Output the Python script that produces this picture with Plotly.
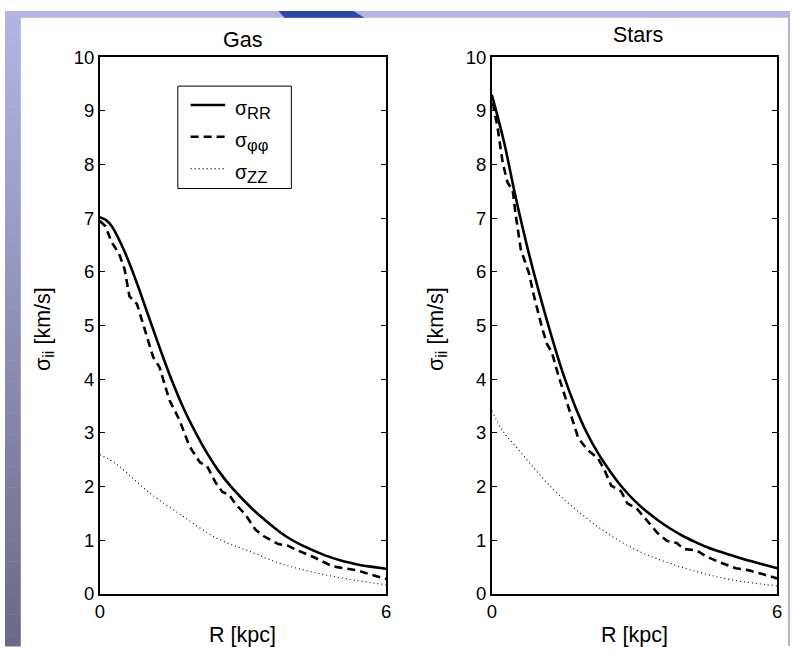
import plotly.graph_objects as go

# ---- data: velocity dispersion profiles, R in kpc, sigma in km/s ----
gas_rr_r = [0, 0.125, 0.25, 0.5, 0.75, 1.0, 1.25, 1.5, 1.75, 2.0, 2.25, 2.5, 2.75, 3.0,
            3.25, 3.5, 3.75, 4.0, 4.25, 4.5, 4.75, 5.0, 5.25, 5.5, 5.75, 6.0]
gas_rr = [7.02, 6.97, 6.85, 6.42, 5.86, 5.23, 4.60, 4.00, 3.47, 3.02, 2.62, 2.28, 2.00, 1.76,
          1.54, 1.35, 1.17, 1.02, 0.90, 0.80, 0.71, 0.64, 0.58, 0.53, 0.50, 0.47]

gas_pp_r = [0, 0.12, 0.25, 0.4, 0.52, 0.62, 0.78, 0.95, 1.12, 1.25, 1.46, 1.67, 1.88,
            2.1, 2.25, 2.43, 2.57, 2.71, 2.85, 3.05, 3.26, 3.43, 3.74, 3.94, 4.15,
            4.5, 4.84, 4.98, 5.4, 5.68, 6.0]
gas_pp = [6.95, 6.85, 6.55, 6.35, 6.05, 5.55, 5.40, 4.88, 4.41, 4.23, 3.61, 3.24, 2.75,
          2.45, 2.38, 2.07, 1.90, 1.85, 1.67, 1.48, 1.20, 1.08, 0.93, 0.90, 0.81,
          0.68, 0.53, 0.50, 0.44, 0.36, 0.28]

gas_zz_r = [0, 0.36, 1.05, 1.74, 2.43, 3.12, 3.81, 4.5, 5.19, 6.0]
gas_zz = [2.60, 2.41, 1.88, 1.45, 1.05, 0.80, 0.56, 0.40, 0.28, 0.17]

star_rr_r = [0, 0.25, 0.5, 0.75, 1.0, 1.25, 1.5, 1.75, 2.0, 2.25, 2.5, 2.75, 3.0,
             3.25, 3.5, 3.75, 4.0, 4.25, 4.5, 4.75, 5.0, 5.25, 5.5, 5.75, 6.0]
star_rr = [9.30, 8.45, 7.40, 6.45, 5.60, 4.82, 4.10, 3.50, 3.00, 2.60, 2.27, 1.98, 1.74,
           1.54, 1.37, 1.22, 1.09, 0.98, 0.88, 0.80, 0.73, 0.66, 0.60, 0.54, 0.48]

star_pp_r = [0.02, 0.12, 0.23, 0.33, 0.44, 0.5, 0.61, 0.78, 0.89, 1.06, 1.16, 1.26, 1.40,
             1.61, 1.82, 2.02, 2.23, 2.37, 2.51, 2.72, 2.85, 3.06, 3.27, 3.48, 3.68,
             3.89, 4.03, 4.31, 4.51, 4.79, 5.13, 5.41, 5.69, 6.0]
star_pp = [9.15, 8.70, 8.03, 7.67, 7.52, 7.08, 6.42, 5.98, 5.54, 4.95, 4.66, 4.51, 4.07,
           3.48, 2.90, 2.68, 2.53, 2.31, 2.02, 1.91, 1.69, 1.58, 1.36, 1.14, 0.99,
           0.95, 0.84, 0.81, 0.70, 0.59, 0.48, 0.44, 0.37, 0.29]

star_zz_r = [0, 0.23, 0.57, 0.92, 1.26, 1.61, 2.30, 2.99, 3.68, 4.37, 5.07, 6.0]
star_zz = [3.41, 3.04, 2.68, 2.31, 1.98, 1.69, 1.21, 0.84, 0.59, 0.40, 0.26, 0.15]

panel_titles = ["Gas", "Stars"]
y_ticks = [0, 1, 2, 3, 4, 5, 6, 7, 8, 9, 10]
x_ticks = [0, 6]
SUB = '<sub><span style="font-size:16.5px">%s</span></sub>'
legend_names = ["σ" + SUB % "RR", "σ" + SUB % "φφ", "σ" + SUB % "ZZ"]
y_title = "σ" + SUB % "ii" + " [km/s]"
x_title = "R [kpc]"

W, H = 795, 656
FONT = "Liberation Sans"
TICK_SIZE = 18.5
LABEL_SIZE = 21.5
KEY_SIZE = 19.5

# vertical layout grid: page rows are laid out on a slightly stretched scale
ROW_SHIFT = 8.4
ROW_SCALE = 0.974


def px_x(v):
    return v / W


def px_y(v):
    return 1 - ((v - ROW_SHIFT) / ROW_SCALE) / H


def raw_y(v):
    return 1 - v / H


# line styles shared by the curves and the legend key
styles = [
    dict(color="black", width=2.6),
    dict(color="black", width=2.6, dash="8px,5px"),
    dict(color="black", width=1.1, dash="1px,3px"),
]

fig = go.Figure()

panels = [
    (gas_rr_r, gas_rr, gas_pp_r, gas_pp, gas_zz_r, gas_zz),
    (star_rr_r, star_rr, star_pp_r, star_pp, star_zz_r, star_zz),
]
for i, (rr_r, rr, pp_r, pp, zz_r, zz) in enumerate(panels):
    xa = "x" if i == 0 else "x2"
    ya = "y" if i == 0 else "y2"
    fig.add_trace(go.Scatter(x=rr_r, y=rr, mode="lines", name=legend_names[0],
                             line=dict(styles[0], shape="spline"),
                             xaxis=xa, yaxis=ya, showlegend=False))
    fig.add_trace(go.Scatter(x=pp_r, y=pp, mode="lines", name=legend_names[1],
                             line=styles[1], xaxis=xa, yaxis=ya, showlegend=False))
    fig.add_trace(go.Scatter(x=zz_r, y=zz, mode="lines", name=legend_names[2],
                             line=dict(styles[2], shape="spline"),
                             xaxis=xa, yaxis=ya, showlegend=False))

y_dom = [px_y(595), px_y(55)]
x_doms = [[px_x(96), px_x(386)], [px_x(493), px_x(782)]]

axis_common = dict(showgrid=False, zeroline=False, showline=True, linecolor="black",
                   linewidth=1.5,
                   tickfont=dict(family=FONT, size=TICK_SIZE, color="black"))
for i in range(2):
    sfx = "" if i == 0 else "2"
    fig.update_layout(**{
        "xaxis" + sfx: dict(axis_common, domain=x_doms[i], range=[0, 6],
                            tickvals=x_ticks, ticks="", mirror=True,
                            anchor="y" + sfx),
        "yaxis" + sfx: dict(axis_common, domain=y_dom, range=[0, 10],
                            tickvals=y_ticks, ticks="inside", ticklen=5,
                            tickwidth=1, tickcolor="black", mirror="ticks",
                            anchor="x" + sfx),
    })

label_font = dict(family=FONT, size=LABEL_SIZE, color="black")
annotations = []
shapes = []
title_pos = [(241, 38), (641, 33)]
for i in range(2):
    cx = (x_doms[i][0] + x_doms[i][1]) / 2
    annotations.append(dict(text=panel_titles[i], x=px_x(title_pos[i][0]),
                            y=px_y(title_pos[i][1]), xref="paper", yref="paper",
                            xanchor="center", yanchor="middle",
                            showarrow=False, font=label_font))
    annotations.append(dict(text=x_title, x=cx, y=px_y(636), xref="paper",
                            yref="paper", xanchor="center", yanchor="middle",
                            showarrow=False, font=label_font))
    annotations.append(dict(text=y_title,
                            x=px_x(40 if i == 0 else 438), y=px_y(328),
                            xref="paper", yref="paper", xanchor="center",
                            yanchor="middle", showarrow=False, textangle=-90,
                            font=label_font))

# slide frame: lavender top band, shaded left band, blue tab
n_bands = 60
top_c = (180, 180, 227)
bot_c = (108, 106, 138)
for k in range(n_bands):
    t = k / (n_bands - 1)
    c = tuple(round(top_c[j] + (bot_c[j] - top_c[j]) * t) for j in range(3))
    y0 = H * k / n_bands
    y1 = H * (k + 1) / n_bands + 0.5
    shapes.append(dict(type="rect", xref="paper", yref="paper",
                       x0=0, x1=px_x(16), y0=raw_y(y1), y1=raw_y(y0),
                       line=dict(width=0), fillcolor="rgb(%d,%d,%d)" % c))
shapes.append(dict(type="rect", xref="paper", yref="paper", x0=0, x1=1,
                   y0=raw_y(7), y1=1, line=dict(width=0), fillcolor="rgb(180,180,226)"))
shapes.append(dict(type="rect", xref="paper", yref="paper", x0=px_x(793), x1=1,
                   y0=0, y1=1, line=dict(width=0), fillcolor="rgb(176,178,226)"))
shapes.append(dict(type="path", xref="paper", yref="paper",
                   path="M %f,%f L %f,%f L %f,%f L %f,%f Z" % (
                       px_x(277), raw_y(0), px_x(353), raw_y(0),
                       px_x(364), raw_y(7), px_x(283), raw_y(7)),
                   line=dict(width=0), fillcolor="rgb(42,72,170)"))

# legend key inside the gas panel
shapes.append(dict(type="rect", xref="paper", yref="paper",
                   x0=px_x(175), x1=px_x(290), y0=px_y(187), y1=px_y(84),
                   line=dict(color="black", width=1), fillcolor="white"))
key_rows = [103, 135, 167]
for name, style, row in zip(legend_names, styles, key_rows):
    shapes.append(dict(type="line", xref="paper", yref="paper",
                       x0=px_x(188), x1=px_x(223), y0=px_y(row), y1=px_y(row),
                       line=style))
    annotations.append(dict(text=name, x=px_x(231), y=px_y(row + 5),
                            xref="paper", yref="paper", xanchor="left",
                            yanchor="middle", showarrow=False,
                            font=dict(family=FONT, size=KEY_SIZE, color="black")))

fig.update_layout(
    width=W, height=H,
    margin=dict(l=0, r=0, t=0, b=0),
    paper_bgcolor="white", plot_bgcolor="white",
    annotations=annotations, shapes=shapes,
    showlegend=False,
    font=dict(family=FONT, color="black"),
)

fig.write_html("out.html")
